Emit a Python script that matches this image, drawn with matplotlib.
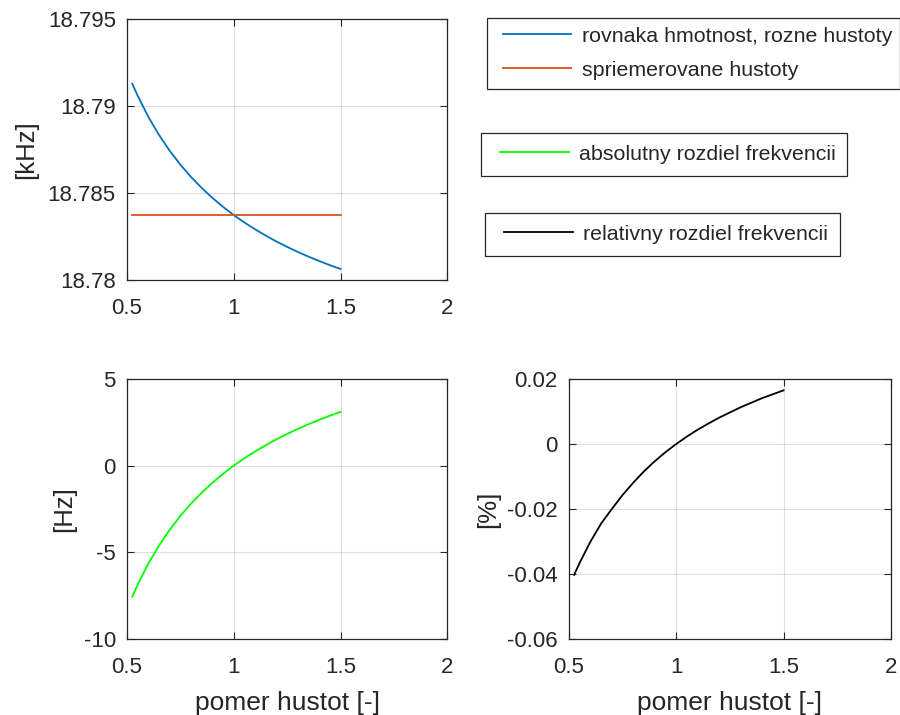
import matplotlib
matplotlib.use("Agg")
import matplotlib.pyplot as plt
from matplotlib.legend_handler import HandlerLine2D

plt.rcParams['font.family'] = ['Liberation Sans', 'DejaVu Sans']

# pomer hustot
ratio = [0.525, 0.55, 0.6, 0.65, 0.7, 0.75, 0.8, 0.85, 0.9, 0.95, 1.0,
         1.05, 1.1, 1.15, 1.2, 1.25, 1.3, 1.35, 1.4, 1.45, 1.5]
# rovnaka hmotnost, rozne hustoty [kHz]
f_diff = [18.79130, 18.79062, 18.78940, 18.78836, 18.78745, 18.78665, 18.78594,
          18.78531, 18.78474, 18.78422, 18.78375, 18.78332, 18.78293, 18.78257,
          18.78223, 18.78192, 18.78163, 18.78136, 18.78111, 18.78087, 18.78065]
# spriemerovane hustoty [kHz]
f_avg = [18.78375] * len(ratio)
# absolutny rozdiel [Hz]
abs_diff = [-7.55, -6.87, -5.65, -4.61, -3.70, -2.90, -2.19, -1.56, -0.99, -0.47, 0.0,
            0.43, 0.82, 1.18, 1.52, 1.83, 2.12, 2.39, 2.64, 2.88, 3.10]
# relativny rozdiel [%]
rel_diff = [-0.0402, -0.0366, -0.0301, -0.0245, -0.0200, -0.0157, -0.0119, -0.0084,
            -0.0053, -0.0025, 0.0, 0.0023, 0.0044, 0.0063, 0.0081, 0.0097, 0.0113,
            0.0127, 0.0141, 0.0153, 0.0165]

TXT = '#262626'
FS = 16
LFS = 18.5

fig = plt.figure(figsize=(9, 7.15), dpi=100)


def style(ax):
    ax.grid(True, color=TXT, alpha=0.15, linewidth=0.8)
    ax.set_axisbelow(True)
    ax.tick_params(direction='in', length=5, width=0.8, colors=TXT,
                   labelsize=FS, top=True, right=True)
    ax.tick_params(axis='x', pad=13)
    ax.tick_params(axis='y', pad=8)
    for s in ax.spines.values():
        s.set_color(TXT)
        s.set_linewidth(0.9)
    ax.set_xlim(0.5, 2)
    ax.set_xticks([0.5, 1, 1.5, 2])
    ax.set_xticklabels(['0.5', '1', '1.5', '2'])


ax1 = fig.add_axes([0.141, 0.608, 0.356, 0.365])
l1, = ax1.plot(ratio, f_diff, color='#0072BD', lw=1.3)
l2, = ax1.plot(ratio, f_avg, color='#D95319', lw=1.3)
style(ax1)
ax1.set_ylim(18.78, 18.795)
ax1.set_yticks([18.78, 18.785, 18.79, 18.795])
ax1.set_yticklabels(['18.78', '18.785', '18.79', '18.795'])
ax1.set_ylabel('[kHz]', fontsize=LFS, color=TXT, labelpad=7)

ax2 = fig.add_axes([0.141, 0.106, 0.356, 0.364])
l3, = ax2.plot(ratio, abs_diff, color='#00FF00', lw=1.3)
style(ax2)
ax2.set_ylim(-10, 5)
ax2.set_yticks([-10, -5, 0, 5])
ax2.set_yticklabels(['-10', '-5', '0', '5'])
ax2.set_ylabel('[Hz]', fontsize=LFS, color=TXT, labelpad=5)
ax2.set_xlabel('pomer hustot [-]', fontsize=LFS + 0.5, color=TXT, labelpad=9)

ax3 = fig.add_axes([0.632, 0.106, 0.358, 0.364])
l4, = ax3.plot(ratio, rel_diff, color='black', lw=1.3)
style(ax3)
ax3.set_ylim(-0.06, 0.02)
ax3.set_yticks([-0.06, -0.04, -0.02, 0, 0.02])
ax3.set_yticklabels(['-0.06', '-0.04', '-0.02', '0', '0.02'])
ax3.set_ylabel('[%]', fontsize=LFS, color=TXT, labelpad=5)
ax3.set_xlabel('pomer hustot [-]', fontsize=LFS + 0.5, color=TXT, labelpad=9)

hmap = {l: HandlerLine2D(xpad=0.35) for l in (l1, l2, l3, l4)}
leg_kw = dict(loc='upper left', fontsize=15.4, frameon=True, fancybox=False,
              edgecolor=TXT, framealpha=1, handlelength=3.55,
              handletextpad=0.47, borderaxespad=0, labelcolor=TXT, handler_map=hmap)

lg1 = fig.legend([l1, l2], ['rovnaka hmotnost, rozne hustoty', 'spriemerovane hustoty'],
                 bbox_to_anchor=(487 / 900, 1 - 18 / 715), labelspacing=0.72,
                 borderpad=0.4, **leg_kw)
lg2 = fig.legend([l3], ['absolutny rozdiel frekvencii'],
                 bbox_to_anchor=(481 / 900, 1 - 133 / 715), borderpad=0.55, **leg_kw)
lg3 = fig.legend([l4], ['relativny rozdiel frekvencii'],
                 bbox_to_anchor=(485 / 900, 1 - 213 / 715), borderpad=0.55, **leg_kw)
for lg in (lg1, lg2, lg3):
    lg.get_frame().set_linewidth(0.9)

fig.savefig('out.png', dpi=100)
